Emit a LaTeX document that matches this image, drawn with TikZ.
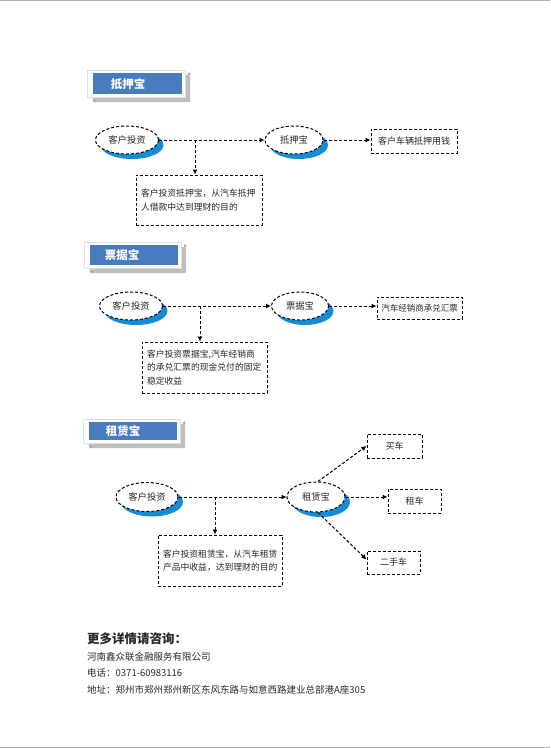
\documentclass[tikz,border=0pt]{standalone}
\usepackage{fontspec}
\setmainfont{Noto Sans CJK SC}
\usetikzlibrary{shapes.geometric,shadows,arrows.meta,backgrounds}
\definecolor{hblue}{RGB}{72,124,190}
\definecolor{shblue}{RGB}{20,140,215}
\definecolor{txt}{RGB}{40,40,40}
\tikzset{
  dl/.style={line width=1pt, dash pattern=on 3pt off 2pt},
  ell/.style={ellipse, draw, dl, fill=white, inner sep=0pt, text=txt,
    font=\fontsize{9.3}{10}\selectfont,
    drop shadow={shadow xshift=5pt, shadow yshift=-5pt, fill=shblue, opacity=1}},
  bx/.style={draw, dl, fill=white, inner sep=0pt, text=txt, font=\fontsize{9}{10}\selectfont},
  tbx/.style={bx, align=left, text width=#1, inner xsep=5pt, font=\fontsize{8.8}{13.5}\selectfont},
  arr/.style={dl, -{Latex[length=5pt,width=5pt]}},
  hdr/.style={fill=hblue, inner sep=0pt},
  htxt/.style={text=white, font=\fontsize{11.5}{12}\selectfont\bfseries, inner sep=0pt},
  hshadow/.style={fill=gray!50, rounded corners=2pt},
  hframe/.style={fill=white, draw=gray!25, line width=0.5pt},
  hdot/.style={fill=gray!65},
  foot/.style={anchor=west, inner sep=0pt, text=txt, font=\fontsize{9.5}{10}\selectfont}
}
\begin{document}
\begin{tikzpicture}[x=1pt,y=-1pt]
\useasboundingbox (0,0) rectangle (550,748);
\draw[gray!60, line width=1.2pt] (0,0.6) -- (550,0.6);
\draw[gray!60, line width=1.2pt] (0,747.4) -- (550,747.4);

% ---------- headers ----------
\node[hdr, minimum width=89pt, minimum height=21pt] (h1) at (137.5,83.5) {};
\node[hdr, minimum width=88pt, minimum height=20pt] (h2) at (134,255) {};
\node[hdr, minimum width=88pt, minimum height=18pt] (h3) at (133,431) {};
\begin{scope}[on background layer]
\fill[white] (0,0) rectangle (550,748);
\foreach \h in {h1,h2,h3}{
  \fill[hshadow] ([yshift=-8pt]\h.south west) rectangle ([xshift=8pt,yshift=-2pt]\h.north east);
  \filldraw[hframe] ([xshift=-6pt,yshift=-3pt]\h.south west) rectangle ([xshift=3pt,yshift=3pt]\h.north east);
  \fill[hdot] ([xshift=2pt,yshift=-6.5pt]\h.south west) circle (1.6pt);
  \fill[hdot] ([xshift=7pt,yshift=-1pt]\h.north east) circle (1.6pt);
}
\end{scope}
\node[htxt] (t1) at (128,84) {抵押宝};
\node[htxt] (t2) at (122,255) {票据宝};
\node[htxt] (t3) at (123,431) {租赁宝};

% ---------- section 1 ----------
\node[ell, minimum width=63pt, minimum height=28pt] (a1) at (127,140) {客户投资};
\node[ell, minimum width=58pt, minimum height=28pt] (b1) at (294,140) {抵押宝};
\node[bx, minimum width=86pt, minimum height=24pt] (c1) at (414,141) {客户车辆抵押用钱};
\node[tbx=116pt, minimum height=50pt] (d1) at (199,200) {客户投资抵押宝，从汽车抵押\\人借款中达到理财的目的};
\coordinate (j1) at (195,140);
\draw[arr] (a1.east) -- (b1.west);
\draw[arr] (b1.east) -- (b1.east -| c1.west);
\draw[arr] (j1) -- (j1 |- d1.north);

% ---------- section 2 ----------
\node[ell, minimum width=63pt, minimum height=28pt] (a2) at (131,306) {客户投资};
\node[ell, minimum width=57pt, minimum height=28pt] (b2) at (300,306) {票据宝};
\node[bx, minimum width=85pt, minimum height=22pt, font=\fontsize{8.5}{10}\selectfont] (c2) at (419.5,308) {汽车经销商承兑汇票};
\node[tbx=115pt, minimum height=51pt] (d2) at (204.5,367.5) {客户投资票据宝,汽车经销商\\的承兑汇票的现金兑付的固定\\稳定收益};
\coordinate (j2) at (200,306);
\draw[arr] (a2.east) -- (b2.west);
\draw[arr] (b2.east) -- (b2.east -| c2.west);
\draw[arr] (j2) -- (j2 |- d2.north);

% ---------- section 3 ----------
\node[ell, minimum width=62pt, minimum height=29pt] (a3) at (147,497) {客户投资};
\node[ell, minimum width=58pt, minimum height=30pt] (b3) at (316,497) {租赁宝};
\node[bx, minimum width=55pt, minimum height=24pt] (e1) at (394.5,446) {买车};
\node[bx, minimum width=53pt, minimum height=24pt] (e2) at (414.5,501) {租车};
\node[bx, minimum width=53pt, minimum height=23pt] (e3) at (393.5,562.5) {二手车};
\node[tbx=114pt, minimum height=51pt] (d3) at (220,560.5) {客户投资租赁宝，从汽车租赁\\产品中收益，达到理财的目的};
\coordinate (j3) at (215,497);
\draw[arr] (a3.east) -- (b3.west);
\draw[arr] ([xshift=2pt]b3.north) -- (e1.west);
\draw[arr] (b3.east) -- (b3.east -| e2.west);
\draw[arr] ([xshift=2pt]b3.south) -- ([yshift=3pt]e3.west);
\draw[arr] (j3) -- (j3 |- d3.north);

% ---------- footer ----------
\node[foot, font=\fontsize{12.5}{13}\selectfont\bfseries] (f1) at (87,639) {更多详情请咨询：};
\node[foot] (f2) at (87,657) {河南鑫众联金融服务有限公司};
\node[foot] (f3) at (87,673) {电话：0371-60983116};
\node[foot] (f4) at (87,690) {地址：郑州市郑州郑州新区东风东路与如意西路建业总部港A座305};
\end{tikzpicture}
\end{document}
